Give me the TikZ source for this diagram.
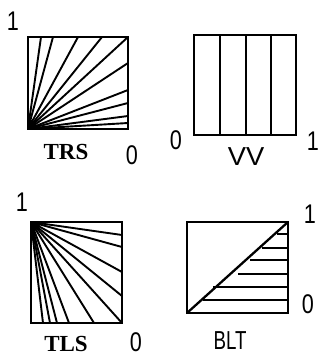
\documentclass[tikz,border=0pt]{standalone}
\usepackage{fontspec}
\setmainfont{Liberation Serif}
\newfontfamily\digfont{Liberation Sans}
\begin{document}
\begin{tikzpicture}[x=1pt,y=-1pt,
  boxline/.style={line width=2.3pt},
  ray/.style={line width=1.9pt},
  num/.style={inner sep=0pt, font=\digfont\fontsize{27}{27}\selectfont, xscale=0.8},
  serlab/.style={inner sep=0pt, font=\bfseries\fontsize{23}{23}\selectfont},
  sanslab/.style={inner sep=0pt, font=\digfont\fontsize{26}{26}\selectfont}]
\useasboundingbox (0,0) rectangle (320,356);
% ---------- TRS ----------
\foreach \x in {41,53,78,102} \draw[ray] (28,129) -- (\x,37);
\foreach \y in {63,90,103,116,123} \draw[ray] (28,129) -- (128,\y);
\draw[ray] (28,129) -- (128,37);
\fill (28,129) -- (40,129) -- (28,116) -- cycle;
\draw[boxline] (28,37) rectangle (128,129);
\node[num] (trs1) at (13,21) {1};
\node[serlab] (trsl) at (66,152) {TRS};
\node[num] (trs0) at (132,155) {0};
% ---------- VV ----------
\draw[boxline] (194,35) rectangle (296,135);
\foreach \x in {220,246,271} \draw[boxline] (\x,35) -- (\x,135);
\node[num] (vv0) at (176,140) {0};
\node[num] (vv1) at (313,141) {1};
\node[sanslab, xscale=1.05] (vvl) at (246,157) {VV};
% ---------- TLS ----------
\foreach \x in {43,50,57,69,94} \draw[ray] (31,222) -- (\x,323);
\foreach \y in {235,247,272,296} \draw[ray] (31,222) -- (122,\y);
\draw[ray] (31,222) -- (122,323);
\fill (31,222) -- (43,222) -- (31,235) -- cycle;
\draw[boxline] (31,222) rectangle (122,323);
\node[num] (tls1) at (22,202) {1};
\node[serlab] (tlsl) at (66,344) {TLS};
\node[num] (tls0) at (136,342) {0};
% ---------- BLT ----------
\draw[boxline] (187,222) rectangle (288,313);
\draw[boxline] (187,313) -- (288,222);
\foreach \xs/\y in {277/234, 262/248, 250/260, 238/274, 213/287, 203/300}
  \draw[ray] (\xs,\y) -- (288,\y);
\node[num] (blt1) at (310,214) {1};
\node[num] (blt0) at (308,304) {0};
\node[sanslab, xscale=0.72] (bltl) at (230,341) {BLT};
\end{tikzpicture}
\end{document}
